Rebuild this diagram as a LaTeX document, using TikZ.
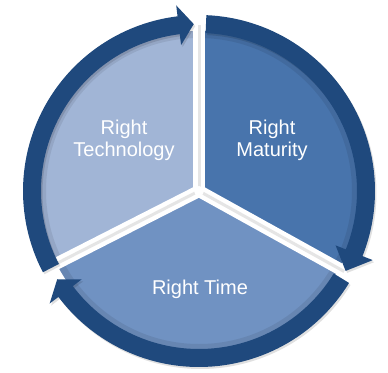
\documentclass[tikz,border=0pt]{standalone}
\usepackage{fontspec}
\setmainfont{Liberation Sans}
\begin{document}
\begin{tikzpicture}
  \definecolor{ringblue}{HTML}{1F497D}
  \definecolor{techblue}{HTML}{A1B5D6}
  \definecolor{matblue}{HTML}{4874AC}
  \definecolor{timeblue}{HTML}{7092C2}
  \tikzset{
    lbl/.style={text=white, align=center, inner sep=0pt,
      font=\fontsize{20}{21.5}\selectfont},
    gapline/.style={white, line width=12pt},
    gapshade/.style={black!10, line width=3pt},
  }
  % one ring segment: tail angle, base angle of the head, tip angle
  \newcommand{\cyclearrow}[4][ringblue]{%
    \fill[#1] ([shift={(C)}]#2:176pt) arc[start angle=#2, end angle=#3, radius=176pt]
      -- ([shift={(C)}]#3:187pt) -- ([shift={(C)}]#4:167pt) -- ([shift={(C)}]#3:147pt)
      -- ([shift={(C)}]#3:158pt) arc[start angle=#3, end angle=#2, radius=158pt] -- cycle;}

  \useasboundingbox (0,0) rectangle (388pt,-372pt);
  \coordinate (C) at (199pt,-191pt);

  % pie sectors
  \fill[techblue] (C) -- ([shift={(C)}]90:160pt) arc[start angle=90, end angle=207, radius=160pt] -- cycle;
  \fill[timeblue] (C) -- ([shift={(C)}]207:160pt) arc[start angle=207, end angle=331, radius=160pt] -- cycle;
  \fill[matblue] (C) -- ([shift={(C)}]331:160pt) arc[start angle=331, end angle=450, radius=160pt] -- cycle;

  % soft shade just inside the ring
  \begin{scope}
    \clip (C) circle[radius=160pt];
    \draw[black, opacity=0.08, line width=8pt] (C) circle[radius=157pt];
  \end{scope}

  % separating gaps
  \coordinate (g1) at ([shift={(C)}]90:166pt);
  \coordinate (g2) at ([shift={(C)}]207:166pt);
  \coordinate (g3) at ([shift={(C)}]331:166pt);
  \foreach \g in {g1,g2,g3} {
    \draw[gapline] (C) -- (\g);
  }
  \foreach \g in {g1,g2,g3} {
    \draw[gapshade] (C) -- (\g);
  }
  \fill[white] (C) circle[radius=5pt];

  % drop shadow of the ring arrows
  \begin{scope}[shift={(1.5pt,-2pt)}]
    \cyclearrow[black, opacity=0.12]{207.5}{97}{91.8}
    \cyclearrow[black, opacity=0.12]{87.6}{-21.7}{-28.6}
    \cyclearrow[black, opacity=0.12]{-31.5}{-143}{-148.1}
  \end{scope}

  % ring arrows, clockwise
  \cyclearrow{207.5}{97}{91.8}
  \cyclearrow{87.6}{-21.7}{-28.6}
  \cyclearrow{-31.5}{-143}{-148.1}

  % labels
  \node[lbl] (tech) at (124pt,-140.5pt) {Right\\Technology};
  \node[lbl] (mat) at (272pt,-140.5pt) {Right\\Maturity};
  \node[lbl] (time) at (200pt,-289pt) {Right Time};
\end{tikzpicture}
\end{document}
